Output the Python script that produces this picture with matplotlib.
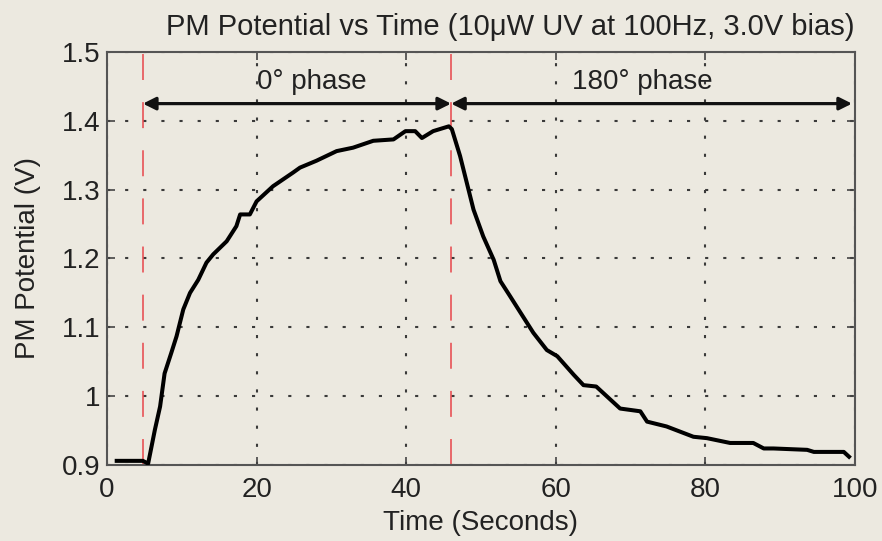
import matplotlib
matplotlib.use("Agg")
import matplotlib.pyplot as plt

# curve
time_s = [1.3, 4.8, 5.5, 6.4, 7.1, 7.7, 8.6, 9.3, 10.2, 11.1, 12.2, 13.3, 14.2,
          16.0, 17.3, 17.8, 19.1, 20.0, 22.2, 24.9, 25.8, 28.0, 30.7, 32.9,
          35.6, 38.3, 39.9, 41.2, 42.1, 43.6, 45.7, 46.1,
          47.2, 48.1, 49.0, 50.3, 51.7, 52.6, 53.9, 55.3, 57.0, 58.8, 60.2,
          62.4, 63.7, 65.4, 66.8, 68.6, 71.3, 72.2, 74.8, 78.4, 80.2, 83.3,
          86.4, 87.8, 89.1, 93.6, 94.5, 98.5, 99.2]
potential = [0.906, 0.906, 0.902, 0.951, 0.985, 1.033, 1.063, 1.087, 1.126,
             1.150, 1.169, 1.194, 1.206, 1.225, 1.247, 1.264, 1.264, 1.283,
             1.305, 1.325, 1.332, 1.342, 1.356, 1.361, 1.371, 1.373, 1.385,
             1.385, 1.375, 1.385, 1.392, 1.388,
             1.349, 1.310, 1.271, 1.232, 1.198, 1.167, 1.145, 1.121, 1.092,
             1.067, 1.058, 1.031, 1.016, 1.014, 1.000, 0.982, 0.978, 0.963,
             0.956, 0.941, 0.939, 0.932, 0.932, 0.924, 0.924, 0.922, 0.919,
             0.919, 0.912]

phase_start = 4.8
phase_switch = 46.0
phase_end = 99.6
x_ticks = [0, 20, 40, 60, 80, 100]
y_ticks = [0.9, 1.0, 1.1, 1.2, 1.3, 1.4, 1.5]
y_ticklabels = ["0.9", "1", "1.1", "1.2", "1.3", "1.4", "1.5"]

bg = "#ECE9E0"
txt = "#222222"
fs = 20
plt.rcParams["font.family"] = ["Liberation Sans", "DejaVu Sans"]

fig = plt.figure(figsize=(8.82, 5.41), dpi=100, facecolor=bg)
ax = fig.add_axes([0.1213, 0.1405, 0.8481, 0.7634], facecolor=bg)

for xv in [phase_start, phase_switch]:
    ax.axvline(xv, color="#E8454A", lw=1.1, dashes=(17, 14.5), zorder=2)

ax.plot(time_s, potential, color="black", lw=2.9, zorder=3)

arrow = dict(arrowstyle="<|-|>", color="#111111", lw=2.3,
             mutation_scale=19, shrinkA=0, shrinkB=0)
ax.annotate("", xy=(phase_start, 1.425), xytext=(phase_switch, 1.425), arrowprops=arrow)
ax.annotate("", xy=(phase_switch, 1.425), xytext=(phase_end, 1.425), arrowprops=arrow)
ax.text(27.4, 1.457, "0° phase", ha="center", va="center", fontsize=fs, color=txt)
ax.text(71.6, 1.457, "180° phase", ha="center", va="center", fontsize=fs, color=txt)

ax.set_xlim(0, 100)
ax.set_ylim(0.9, 1.5)
ax.set_xticks(x_ticks)
ax.set_yticks(y_ticks)
ax.set_yticklabels(y_ticklabels)
ax.grid(True, color="#3A3A3A", linestyle=(0, (1.5, 7.2)), lw=1.5)
ax.tick_params(direction="in", top=True, right=True, length=6, width=1.2,
               colors="#444444", labelsize=fs, labelcolor=txt)
ax.tick_params(axis="x", pad=9)
ax.tick_params(axis="y", pad=5)
for s in ax.spines.values():
    s.set_color("#555555")
    s.set_linewidth(1.5)

ax.set_xlabel("Time (Seconds)", fontsize=fs, color=txt, labelpad=5)
ax.set_ylabel("PM Potential (V)", fontsize=fs, color=txt, labelpad=15)
fig.text(0.579, 0.951, "PM Potential vs Time (10μW UV at 100Hz, 3.0V bias)",
         ha="center", va="center", fontsize=21, color=txt)

fig.savefig("out.png", dpi=100, facecolor=bg)
